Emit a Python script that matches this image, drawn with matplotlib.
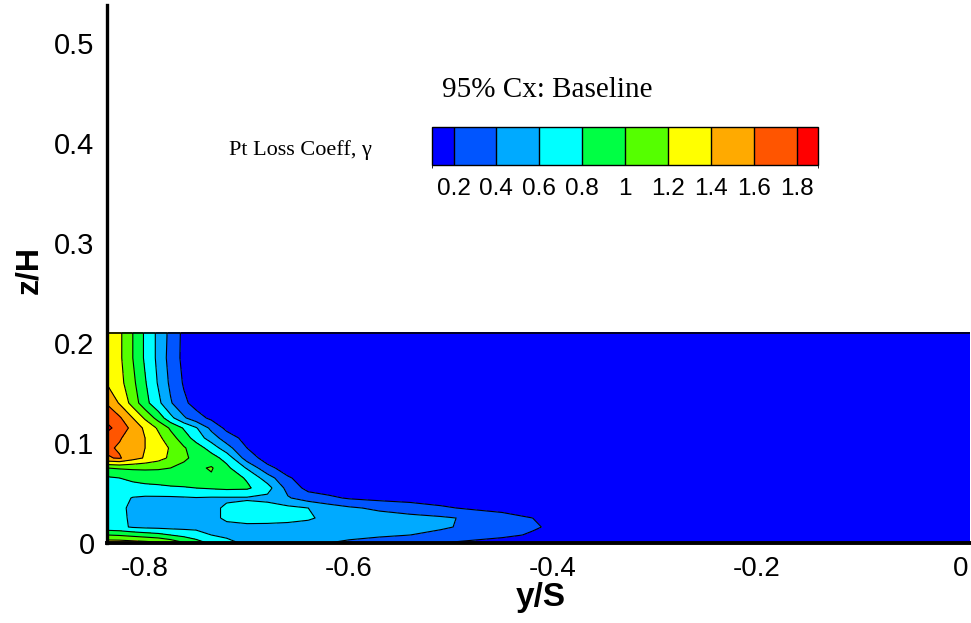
import numpy as np
import matplotlib.pyplot as plt
from matplotlib.colors import ListedColormap, BoundaryNorm
from matplotlib.cm import ScalarMappable
from matplotlib.patches import Rectangle

plt.rcParams['font.family'] = ['Liberation Sans', 'DejaVu Sans']

# grid of the measurement plane (y/S across, z/H up)
y_s = [-0.837, -0.825, -0.812, -0.80, -0.787, -0.775, -0.762, -0.75, -0.735, -0.72,
       -0.70, -0.68, -0.66, -0.64, -0.62, -0.60, -0.57, -0.54, -0.51, -0.48,
       -0.45, -0.42, -0.39, -0.35, -0.25, 0.01]
z_h = [0.0, 0.008, 0.016, 0.025, 0.035, 0.045, 0.055, 0.065, 0.075, 0.085,
       0.095, 0.105, 0.115, 0.125, 0.14, 0.16, 0.185, 0.21]

# Pt loss coefficient, one row per z_h value (bottom to top)
gamma = [
    [1.32, 1.32, 1.30, 1.28, 1.24, 1.15, 1.02, 0.90, 0.76, 0.66, 0.56, 0.50, 0.45, 0.42, 0.40, 0.38, 0.34, 0.28, 0.20, 0.15, 0.12, 0.10, 0.10, 0.10, 0.10, 0.10],
    [1.00, 0.98, 0.94, 0.90, 0.86, 0.80, 0.74, 0.68, 0.60, 0.56, 0.52, 0.48, 0.46, 0.45, 0.44, 0.43, 0.42, 0.40, 0.36, 0.30, 0.24, 0.18, 0.12, 0.10, 0.10, 0.10],
    [0.66, 0.64, 0.58, 0.56, 0.55, 0.54, 0.54, 0.55, 0.56, 0.57, 0.57, 0.56, 0.55, 0.54, 0.52, 0.50, 0.48, 0.45, 0.42, 0.37, 0.30, 0.22, 0.15, 0.10, 0.10, 0.10],
    [0.64, 0.64, 0.57, 0.52, 0.50, 0.50, 0.52, 0.54, 0.57, 0.62, 0.65, 0.66, 0.65, 0.62, 0.56, 0.52, 0.49, 0.46, 0.43, 0.37, 0.30, 0.20, 0.14, 0.10, 0.10, 0.10],
    [0.66, 0.65, 0.55, 0.48, 0.45, 0.45, 0.47, 0.50, 0.57, 0.62, 0.66, 0.67, 0.65, 0.60, 0.50, 0.43, 0.36, 0.30, 0.23, 0.17, 0.12, 0.10, 0.10, 0.10, 0.10, 0.10],
    [0.67, 0.66, 0.59, 0.57, 0.57, 0.57, 0.58, 0.59, 0.58, 0.58, 0.58, 0.55, 0.42, 0.30, 0.24, 0.18, 0.14, 0.12, 0.10, 0.10, 0.10, 0.10, 0.10, 0.10, 0.10, 0.10],
    [0.70, 0.71, 0.72, 0.74, 0.75, 0.77, 0.78, 0.80, 0.82, 0.84, 0.83, 0.68, 0.33, 0.14, 0.10, 0.10, 0.10, 0.10, 0.10, 0.10, 0.10, 0.10, 0.10, 0.10, 0.10, 0.10],
    [0.77, 0.80, 0.85, 0.88, 0.90, 0.92, 0.94, 0.95, 0.97, 0.90, 0.78, 0.50, 0.22, 0.12, 0.10, 0.10, 0.10, 0.10, 0.10, 0.10, 0.10, 0.10, 0.10, 0.10, 0.10, 0.10],
    [1.00, 1.02, 1.03, 1.03, 1.02, 1.00, 0.97, 0.96, 1.02, 0.85, 0.58, 0.25, 0.12, 0.10, 0.10, 0.10, 0.10, 0.10, 0.10, 0.10, 0.10, 0.10, 0.10, 0.10, 0.10, 0.10],
    [1.58, 1.62, 1.48, 1.38, 1.28, 1.16, 1.02, 0.97, 0.88, 0.73, 0.30, 0.12, 0.10, 0.10, 0.10, 0.10, 0.10, 0.10, 0.10, 0.10, 0.10, 0.10, 0.10, 0.10, 0.10, 0.10],
    [1.64, 1.57, 1.50, 1.40, 1.30, 1.18, 1.02, 0.90, 0.72, 0.48, 0.20, 0.10, 0.10, 0.10, 0.10, 0.10, 0.10, 0.10, 0.10, 0.10, 0.10, 0.10, 0.10, 0.10, 0.10, 0.10],
    [1.70, 1.62, 1.50, 1.40, 1.25, 1.08, 0.90, 0.72, 0.50, 0.30, 0.13, 0.10, 0.10, 0.10, 0.10, 0.10, 0.10, 0.10, 0.10, 0.10, 0.10, 0.10, 0.10, 0.10, 0.10, 0.10],
    [1.85, 1.72, 1.54, 1.36, 1.17, 0.97, 0.78, 0.62, 0.35, 0.15, 0.10, 0.10, 0.10, 0.10, 0.10, 0.10, 0.10, 0.10, 0.10, 0.10, 0.10, 0.10, 0.10, 0.10, 0.10, 0.10],
    [1.74, 1.63, 1.40, 1.17, 0.92, 0.66, 0.43, 0.28, 0.16, 0.10, 0.10, 0.10, 0.10, 0.10, 0.10, 0.10, 0.10, 0.10, 0.10, 0.10, 0.10, 0.10, 0.10, 0.10, 0.10, 0.10],
    [1.58, 1.38, 1.12, 0.87, 0.65, 0.42, 0.24, 0.13, 0.10, 0.10, 0.10, 0.10, 0.10, 0.10, 0.10, 0.10, 0.10, 0.10, 0.10, 0.10, 0.10, 0.10, 0.10, 0.10, 0.10, 0.10],
    [1.38, 1.27, 1.05, 0.82, 0.58, 0.36, 0.18, 0.10, 0.10, 0.10, 0.10, 0.10, 0.10, 0.10, 0.10, 0.10, 0.10, 0.10, 0.10, 0.10, 0.10, 0.10, 0.10, 0.10, 0.10, 0.10],
    [1.36, 1.24, 1.00, 0.77, 0.55, 0.32, 0.15, 0.10, 0.10, 0.10, 0.10, 0.10, 0.10, 0.10, 0.10, 0.10, 0.10, 0.10, 0.10, 0.10, 0.10, 0.10, 0.10, 0.10, 0.10, 0.10],
    [1.35, 1.24, 1.00, 0.77, 0.55, 0.34, 0.15, 0.10, 0.10, 0.10, 0.10, 0.10, 0.10, 0.10, 0.10, 0.10, 0.10, 0.10, 0.10, 0.10, 0.10, 0.10, 0.10, 0.10, 0.10, 0.10],
]

contour_levels = [0.0, 0.2, 0.4, 0.6, 0.8, 1.0, 1.2, 1.4, 1.6, 1.8, 2.5]
level_colors = ['#0000ff', '#0055ff', '#00aaff', '#00ffff', '#00ff44',
                '#55ff00', '#ffff00', '#ffaa00', '#ff5500', '#ff0000']
legend_bounds = [0.1, 0.2, 0.4, 0.6, 0.8, 1.0, 1.2, 1.4, 1.6, 1.8, 1.9]
legend_ticks = [0.2, 0.4, 0.6, 0.8, 1.0, 1.2, 1.4, 1.6, 1.8]
x_ticks = [-0.8, -0.6, -0.4, -0.2, 0.0]
y_ticks = [0.0, 0.1, 0.2, 0.3, 0.4, 0.5]

fig = plt.figure(figsize=(9.71, 6.23), dpi=100)
ax = fig.add_axes([0.1102, 0.1284, 0.8888, 0.8636])

Y, Z = np.meshgrid(y_s, z_h)
G = np.array(gamma)
ax.contourf(Y, Z, G, levels=contour_levels, colors=level_colors)
ax.contour(Y, Z, G, levels=contour_levels[1:-1], colors='black', linewidths=0.8)
ax.add_patch(Rectangle((y_s[0], z_h[0]), y_s[-1] - y_s[0], z_h[-1] - z_h[0],
                       fill=False, edgecolor='black', linewidth=1.2, zorder=3))

ax.set_xlim(-0.8373, 0.0088)
ax.set_ylim(0, 0.538)
ax.set_xticks(x_ticks)
ax.set_xticklabels(['%g' % t for t in x_ticks])
ax.set_yticks(y_ticks)
ax.set_yticklabels(['%g' % t for t in y_ticks])
ax.tick_params(axis='both', length=0)
ax.tick_params(axis='y', labelsize=21, pad=9)
ax.tick_params(axis='x', labelsize=20, pad=9)
for side in ['top', 'right']:
    ax.spines[side].set_visible(False)
ax.spines['left'].set_linewidth(2.4)
ax.spines['bottom'].set_linewidth(2.8)

ax.set_xlabel('y/S', fontsize=24, fontweight='bold')
ax.set_ylabel('z/H', fontsize=23, fontweight='bold')
ax.xaxis.set_label_coords(0.502, -0.072)
ax.yaxis.set_label_coords(-0.073, 0.507)

fig.text(0.564, 0.856, '95% Cx: Baseline', family='Liberation Serif',
         fontsize=21, ha='center', va='center')
fig.text(0.309, 0.759, 'Pt Loss Coeff, \u03b3', family='Liberation Serif',
         fontsize=16, ha='center', va='center')

cax = fig.add_axes([0.445, 0.735, 0.3975, 0.061])
sm = ScalarMappable(norm=BoundaryNorm(legend_bounds, len(level_colors)),
                    cmap=ListedColormap(level_colors))
cb = fig.colorbar(sm, cax=cax, orientation='horizontal', boundaries=legend_bounds,
                  ticks=legend_ticks, spacing='proportional', drawedges=True)
cb.ax.set_xticklabels(['%g' % t for t in legend_ticks])
cb.ax.tick_params(length=0, labelsize=17.5, pad=9)
cb.outline.set_linewidth(1.0)
cb.dividers.set_linewidth(1.0)

fig.savefig('out.png', dpi=100)
